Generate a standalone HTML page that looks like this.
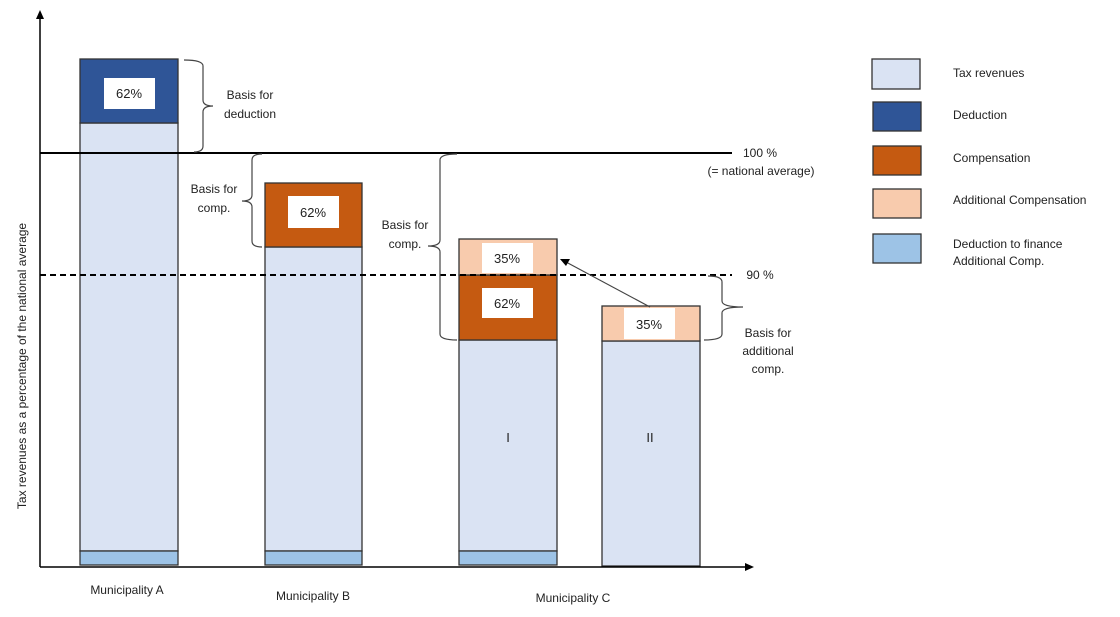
<!DOCTYPE html>
<html><head><meta charset="utf-8"><style>
html,body{margin:0;padding:0;background:#fff;}
svg{display:block;font-family:"Liberation Sans",sans-serif;}
</style></head><body>
<svg width="1120" height="617" viewBox="0 0 1120 617" xmlns="http://www.w3.org/2000/svg">
<g stroke="#333" stroke-width="1.3">
<!-- Bar A -->
<rect x="80" y="123" width="98" height="428" fill="#dae3f3"/>
<rect x="80" y="59" width="98" height="64" fill="#2f5597"/>
<rect x="80" y="551" width="98" height="14" fill="#9dc3e6"/>
<!-- Bar B -->
<rect x="265" y="247" width="97" height="304" fill="#dae3f3"/>
<rect x="265" y="183" width="97" height="64" fill="#c55a11"/>
<rect x="265" y="551" width="97" height="14" fill="#9dc3e6"/>
<!-- Bar C I -->
<rect x="459" y="340" width="98" height="211" fill="#dae3f3"/>
<rect x="459" y="275" width="98" height="65" fill="#c55a11"/>
<rect x="459" y="239" width="98" height="36" fill="#f8cbad"/>
<rect x="459" y="551" width="98" height="14" fill="#9dc3e6"/>
<!-- Bar C II -->
<rect x="602" y="341" width="98" height="225" fill="#dae3f3"/>
<rect x="602" y="306" width="98" height="35" fill="#f8cbad"/>
</g>
<g fill="#fff">
<rect x="104" y="78" width="51" height="31"/>
<rect x="288" y="196" width="51" height="32"/>
<rect x="482" y="243" width="51" height="30"/>
<rect x="482" y="288" width="51" height="30"/>
<rect x="624" y="308" width="51" height="31"/>
</g>
<g font-size="13" fill="#222" text-anchor="middle">
<text x="129" y="98">62%</text>
<text x="313" y="217">62%</text>
<text x="507" y="263">35%</text>
<text x="507" y="308">62%</text>
<text x="649" y="329">35%</text>
<text x="508" y="442">I</text>
<text x="650" y="442">II</text>
</g>
<!-- axes -->
<g stroke="#000" stroke-width="1.5" fill="none">
<line x1="40" y1="16" x2="40" y2="567"/>
<line x1="40" y1="567" x2="746" y2="567"/>
<line x1="40" y1="153" x2="732" y2="153" stroke-width="2"/>
<line x1="40" y1="275" x2="732" y2="275" stroke-dasharray="6,4" stroke-width="2"/>
</g>
<polygon points="40,10 36,19 44,19" fill="#000"/>
<polygon points="754,567 745,563 745,571" fill="#000"/>
<!-- braces -->
<g stroke="#444" stroke-width="1.2" fill="none">
<path d="M184,60 Q203,60 203,66 L203,100 Q203,106 213,106 Q203,106 203,112 L203,146 Q203,152 194,152"/>
<path d="M262,154 Q252,154 252,160 L252,195 Q252,201 242,201 Q252,201 252,207 L252,241 Q252,247 262,247"/>
<path d="M457,154 Q440,154 440,160 L440,240 Q440,246 428,246 Q440,246 440,252 L440,334 Q440,340 457,340"/>
<path d="M708,276 Q722,276 722,282 L722,301 Q722,307 743,307 Q722,307 722,313 L722,334 Q722,340 704,340"/>
<line x1="650" y1="307" x2="566" y2="262"/>
</g>
<polygon points="560,259 570,259 566,266" fill="#000"/>
<g font-size="12" fill="#222" text-anchor="middle">
<text x="250" y="99">Basis for</text>
<text x="250" y="118">deduction</text>
<text x="214" y="193">Basis for</text>
<text x="214" y="212">comp.</text>
<text x="405" y="229">Basis for</text>
<text x="405" y="248">comp.</text>
<text x="768" y="337">Basis for</text>
<text x="768" y="355">additional</text>
<text x="768" y="373">comp.</text>
<text x="760" y="157">100 %</text>
<text x="761" y="175">(= national average)</text>
<text x="760" y="279">90 %</text>
<text x="127" y="594">Municipality A</text>
<text x="313" y="600">Municipality B</text>
<text x="573" y="602">Municipality C</text>
<text transform="translate(26,366) rotate(-90)">Tax revenues as a percentage of the national average</text>
</g>
<!-- legend -->
<g stroke="#333" stroke-width="1.3">
<rect x="872" y="59" width="48" height="30" fill="#dae3f3"/>
<rect x="873" y="102" width="48" height="29" fill="#2f5597"/>
<rect x="873" y="146" width="48" height="29" fill="#c55a11"/>
<rect x="873" y="189" width="48" height="29" fill="#f8cbad"/>
<rect x="873" y="234" width="48" height="29" fill="#9dc3e6"/>
</g>
<g font-size="12" fill="#222">
<text x="953" y="77">Tax revenues</text>
<text x="953" y="119">Deduction</text>
<text x="953" y="162">Compensation</text>
<text x="953" y="204">Additional Compensation</text>
<text x="953" y="248">Deduction to finance</text>
<text x="953" y="265">Additional Comp.</text>
</g>
</svg>
</body></html>
